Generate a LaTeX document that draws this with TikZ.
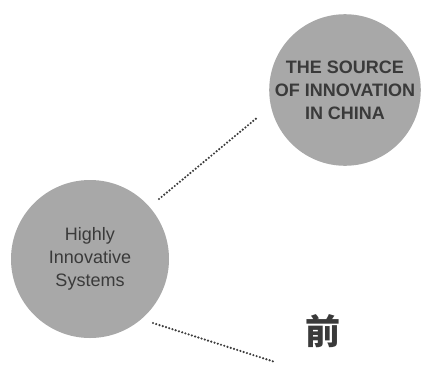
\documentclass[tikz,border=0pt]{standalone}
\usepackage{fontspec}
\setmainfont{Liberation Sans}
\newfontfamily\cjk{Noto Sans CJK SC}
\definecolor{ballgray}{RGB}{168,168,168}
\definecolor{inkgray}{RGB}{58,58,58}
\definecolor{dotgray}{RGB}{60,60,60}
\begin{document}
\begin{tikzpicture}[x=1pt,y=-1pt,
  ball/.style={circle,fill=ballgray,draw=none,minimum size=#1,inner sep=0pt,
    text=inkgray,align=center,font=\fontsize{18}{23}\selectfont},
  dotline/.style={draw=dotgray,line width=2.4pt,line cap=round,dash pattern=on 0pt off 3.4pt}]
\useasboundingbox (0,0) rectangle (423,365);
\node[ball=142pt,font=\fontsize{18}{23}\selectfont\bfseries] (src) at (345,90) {THE SOURCE\\OF INNOVATION\\IN CHINA};
\node[ball=158pt] (his) at (90,259) {Highly\\Innovative\\Systems};
\node[text=inkgray,font=\cjk\bfseries\fontsize{35}{35}\selectfont,inner sep=0pt] (qian) at (323,331) {前};
\coordinate (a1) at (159,199);
\coordinate (a2) at (258,117);
\coordinate (b1) at (153,323);
\coordinate (b2) at (275,362);
\draw[dotline] (a1) -- (a2);
\draw[dotline] (b1) -- (b2);
\end{tikzpicture}
\end{document}
